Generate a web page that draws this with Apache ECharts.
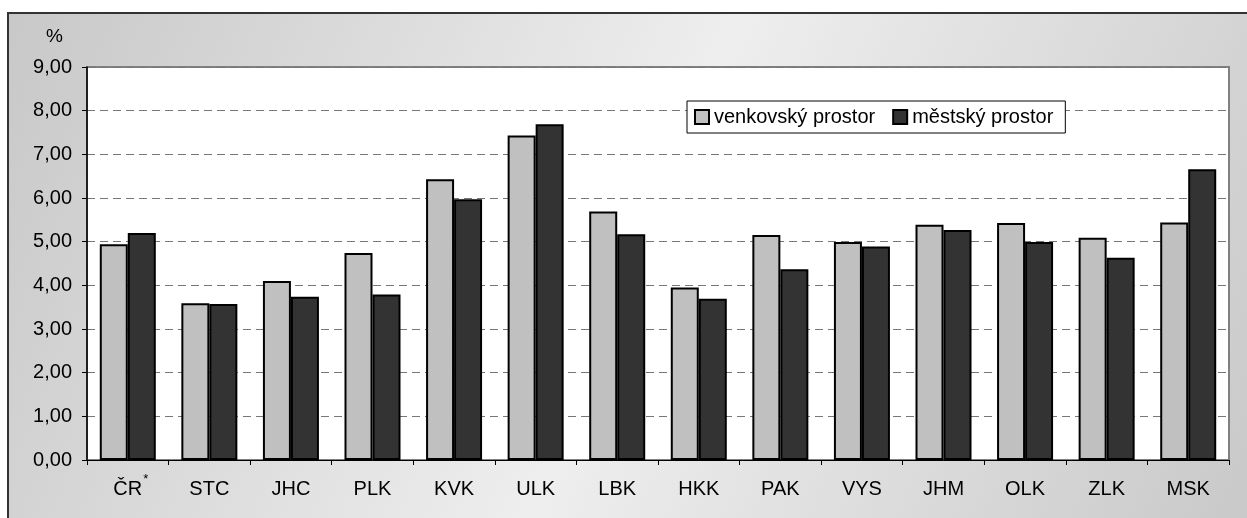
<!DOCTYPE html>
<html>
<head>
<meta charset="utf-8">
<script src="https://cdn.jsdelivr.net/npm/echarts@6/dist/echarts.min.js"></script>
<style>
html, body { margin: 0; padding: 0; background: #fff; }
#chart { width: 1247px; height: 518px; }
</style>
</head>
<body>
<div id="chart"></div>
<script>
var regions = ['ČR', 'STC', 'JHC', 'PLK', 'KVK', 'ULK', 'LBK', 'HKK', 'PAK', 'VYS', 'JHM', 'OLK', 'ZLK', 'MSK']
var venkov = [4.94, 3.59, 4.10, 4.74, 6.43, 7.43, 5.69, 3.95, 5.15, 4.99, 5.39, 5.43, 5.09, 5.44]
var mesto = [5.20, 3.57, 3.74, 3.79, 5.97, 7.69, 5.17, 3.69, 4.37, 4.89, 5.27, 4.99, 4.63, 6.66]
var yTicks = [0, 1, 2, 3, 4, 5, 6, 7, 8, 9]

var myChart = echarts.init(document.getElementById('chart'));

var font = 'Arial, "Liberation Sans", sans-serif'

var option = {
    animation: false,
    textStyle: { fontFamily: font },
    graphic: [
        {
            type: 'rect', z: -10, silent: true,
            shape: { x: 8, y: 13, width: 1250, height: 520 },
            style: {
                fill: new echarts.graphic.LinearGradient(0, 0, 1, 1, [
                    { offset: 0, color: '#c8c8c8' },
                    { offset: 0.5, color: '#eeeeee' },
                    { offset: 1, color: '#c8c8c8' }
                ]),
                stroke: '#333', lineWidth: 2
            }
        },
        {
            type: 'text', left: 46, top: 27,
            style: { text: '%', font: '19px ' + font, fill: '#000' }
        }
    ],
    grid: {
        left: 87, right: 18, top: 67, bottom: 58,
        show: true, backgroundColor: '#fff', borderColor: '#808080', borderWidth: 2
    },
    legend: {
        left: 687, top: 101,
        backgroundColor: '#fff', borderColor: '#000', borderWidth: 1,
        padding: [6, 12, 6, 7],
        itemWidth: 14, itemHeight: 14, itemGap: 17,
        icon: 'rect',
        textStyle: { fontSize: 20, color: '#000' },
        data: ['venkovský prostor', 'městský prostor']
    },
    xAxis: {
        type: 'category',
        data: regions,
        axisLine: { lineStyle: { color: '#000', width: 1 } },
        axisTick: { show: true, length: 5, lineStyle: { color: '#000' } },
        axisLabel: { interval: 0, fontSize: 20, color: '#000', margin: 19 }
    },
    yAxis: {
        type: 'value',
        min: yTicks[0], max: yTicks[yTicks.length - 1], interval: 1,
        axisLine: { show: true, lineStyle: { color: '#000', width: 1.5 } },
        axisTick: { show: true, length: 5, lineStyle: { color: '#000' } },
        axisLabel: {
            fontSize: 20, color: '#000', margin: 15,
            formatter: function (v) { return v.toFixed(2).replace('.', ',') }
        },
        splitLine: { lineStyle: { color: '#777', type: [8, 5], width: 1.2 } }
    },
    series: [
        {
            name: 'venkovský prostor', type: 'bar', data: venkov,
            barWidth: 28, barGap: '0%',
            itemStyle: { color: '#c0c0c0', borderColor: '#000', borderWidth: 2 }
        },
        {
            name: 'městský prostor', type: 'bar', data: mesto,
            barWidth: 28,
            itemStyle: { color: '#333333', borderColor: '#000', borderWidth: 2 }
        }
    ]
};

myChart.setOption(option);

// hvezdicka u CR jako horni index
var crX = myChart.convertToPixel({ xAxisIndex: 0 }, regions[0])
var base = option.graphic.slice()
base.push({
    type: 'text', x: crX + 18, y: 479,
    style: { text: '*', font: '13px ' + font, fill: '#000', align: 'center', verticalAlign: 'middle' }
})
myChart.setOption({ graphic: base }, { replaceMerge: ['graphic'] });
</script>
</body>
</html>
